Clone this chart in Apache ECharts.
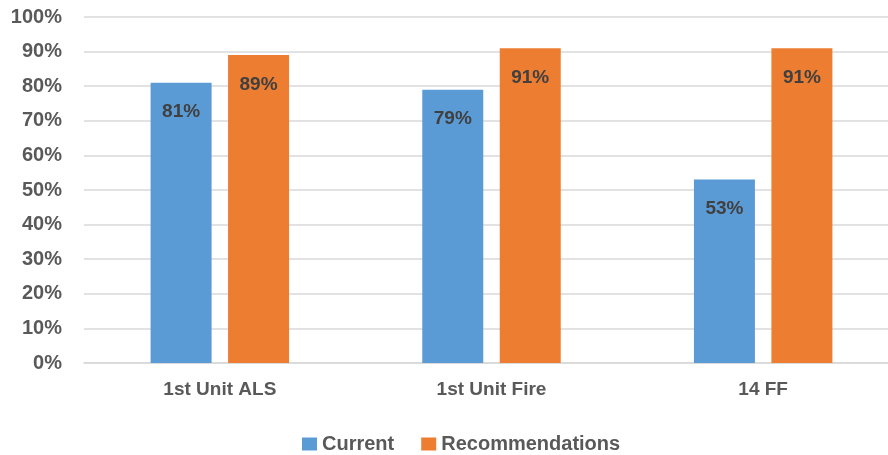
<!DOCTYPE html>
<html>
<head>
<meta charset="utf-8">
<style>
  html, body { margin: 0; padding: 0; background: #fff; }
  #chart { width: 888px; height: 455px; }
</style>
<script src="https://cdn.jsdelivr.net/npm/echarts@6/dist/echarts.min.js"></script>
</head>
<body>
<div id="chart"></div>
<script>
// Unit categories and percentage values
const categories = ['1st Unit ALS', '1st Unit Fire', '14 FF'];
const currentValues = [81, 79, 53];
const recommendationValues = [89, 91, 91];
const seriesNames = ['Current', 'Recommendations'];

const FONT = '"Liberation Sans", Arial, sans-serif';
const chart = echarts.init(document.getElementById('chart'));

const labelStyle = {
  show: true,
  position: 'insideTop',
  distance: 20,
  formatter: p => p.value + '%',
  color: '#404040',
  fontFamily: FONT,
  fontWeight: 'bold',
  fontSize: 19
};

chart.setOption({
  animation: false,
  // plot area runs a little past the right edge of the canvas
  grid: { left: 84, width: 815, top: 17, bottom: 92, containLabel: false, outerBoundsMode: 'none' },
  legend: {
    data: seriesNames,
    bottom: 1,
    left: 302,
    padding: 0,
    itemWidth: 15,
    itemHeight: 13,
    itemGap: 27,
    icon: 'rect',
    textStyle: { color: '#595959', fontFamily: FONT, fontWeight: 'bold', fontSize: 20 }
  },
  xAxis: {
    type: 'category',
    data: categories,
    axisTick: { show: false },
    axisLine: { lineStyle: { color: '#d9d9d9', width: 1.5 } },
    axisLabel: { color: '#595959', fontFamily: FONT, fontWeight: 'bold', fontSize: 19, margin: 17 }
  },
  yAxis: {
    type: 'value',
    min: 0,
    max: 100,
    interval: 10,
    axisLine: { show: false },
    axisTick: { show: false },
    splitLine: { lineStyle: { color: '#d9d9d9', width: 1.5 } },
    axisLabel: { formatter: '{value}%', color: '#595959', fontFamily: FONT, fontWeight: 'bold', fontSize: 20, margin: 22 }
  },
  series: [
    {
      name: seriesNames[0],
      type: 'bar',
      data: currentValues,
      barWidth: 61,
      barGap: '27%',
      itemStyle: { color: '#5B9BD5' },
      label: labelStyle
    },
    {
      name: seriesNames[1],
      type: 'bar',
      data: recommendationValues,
      barWidth: 61,
      barGap: '27%',
      itemStyle: { color: '#ED7D31' },
      label: labelStyle
    }
  ]
});
</script>
</body>
</html>
